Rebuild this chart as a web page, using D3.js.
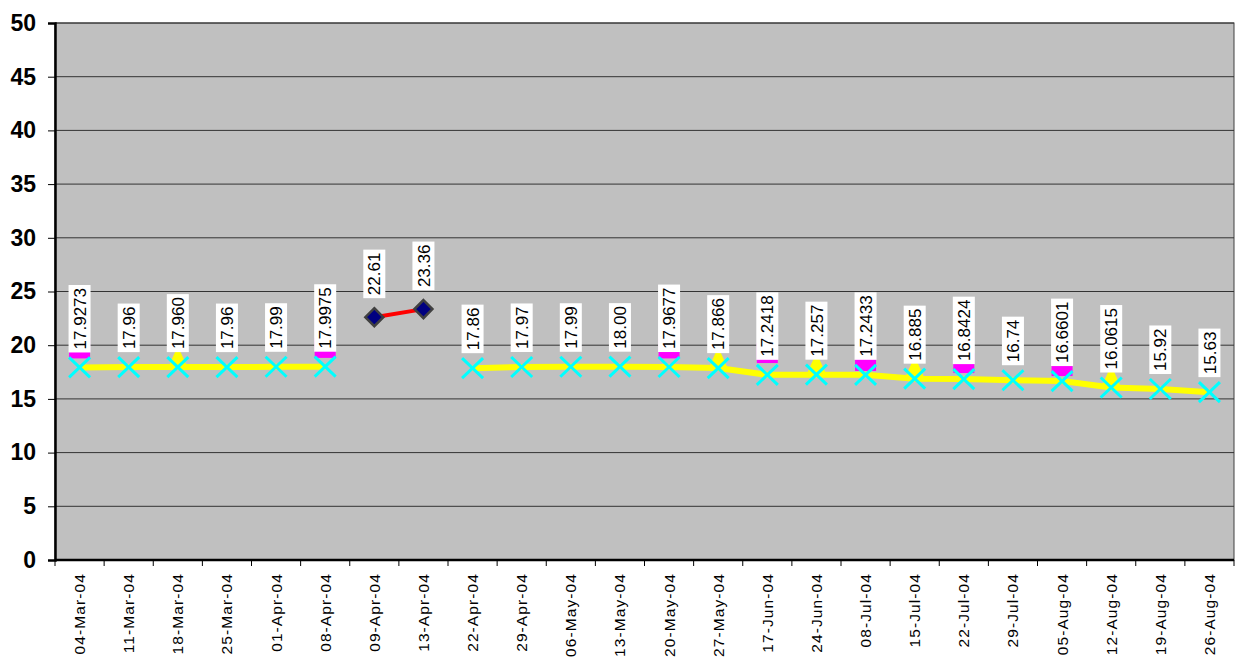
<!DOCTYPE html>
<html>
<head>
<meta charset="utf-8">
<script src="https://cdn.jsdelivr.net/npm/d3@7/dist/d3.min.js"></script>
<style>
  body { margin:0; background:#fff; }
  svg { display:block; }
</style>
</head>
<body>
<svg id="chart"></svg>
<script>
var W = 1236, H = 661;

// data
var categories = ["04-Mar-04","11-Mar-04","18-Mar-04","25-Mar-04","01-Apr-04","08-Apr-04","09-Apr-04","13-Apr-04",
  "22-Apr-04","29-Apr-04","06-May-04","13-May-04","20-May-04","27-May-04","17-Jun-04","24-Jun-04",
  "08-Jul-04","15-Jul-04","22-Jul-04","29-Jul-04","05-Aug-04","12-Aug-04","19-Aug-04","26-Aug-04"];
var lineVals = [17.9273,17.96,17.960,17.96,17.99,17.9975,null,null,
  17.86,17.97,17.99,18.00,17.9677,17.866,17.2418,17.257,
  17.2433,16.885,16.8424,16.74,16.6601,16.0615,15.92,15.63];
var lineLabels = ["17.9273","17.96","17.960","17.96","17.99","17.9975",null,null,
  "17.86","17.97","17.99","18.00","17.9677","17.866","17.2418","17.257",
  "17.2433","16.885","16.8424","16.74","16.6601","16.0615","15.92","15.63"];
var spikeVals = [null,null,null,null,null,null,22.61,23.36,
  null,null,null,null,null,null,null,null,null,null,null,null,null,null,null,null];
var spikeLabels = [null,null,null,null,null,null,"22.61","23.36",
  null,null,null,null,null,null,null,null,null,null,null,null,null,null,null,null];
// magenta squares (down) and yellow triangles (up), mostly hidden behind labels
var downVals = [19.7,null,null,null,null,19.75,null,null,
  null,null,null,null,19.7,null,19.27,null,18.53,null,18.34,null,18.06,null,null,null];
var upVals = [null,null,19.0,null,null,null,null,null,
  null,null,null,null,null,18.9,null,18.4,null,18.05,null,null,null,17.2,null,null];
var yTicks = [0,5,10,15,20,25,30,35,40,45,50];

var svg = d3.select("#chart").attr("width", W).attr("height", H);

var pLeft = 55, pRight = 1234, pTop = 23, pBottom = 560;
var x = d3.scaleBand().domain(categories).range([pLeft, pRight]).padding(0);
var y = d3.scaleLinear().domain([0, 50]).range([pBottom, pTop]);
var cx = function(i){ return x(categories[i]) + x.bandwidth()/2; };

// plot area
svg.append("rect")
  .attr("x", pLeft).attr("y", pTop)
  .attr("width", pRight-pLeft).attr("height", pBottom-pTop)
  .attr("fill", "#C0C0C0")
  .attr("stroke", "#404040").attr("stroke-width", 1);

// grid
svg.append("g").selectAll("line").data(yTicks.filter(function(d){return d>0;}))
  .enter().append("line")
  .attr("x1", pLeft).attr("x2", pRight)
  .attr("y1", function(d){return y(d);}).attr("y2", function(d){return y(d);})
  .attr("stroke", "#333").attr("stroke-width", 1);

// y axis
var yAxis = d3.axisLeft(y).tickValues(yTicks).tickSize(7).tickPadding(12);
var gy = svg.append("g").attr("transform", "translate(" + pLeft + ",0)").call(yAxis);
gy.select(".domain").attr("stroke", "#000").attr("stroke-width", 2.5);
gy.selectAll(".tick line").attr("stroke", "#000").attr("stroke-width", 1);
gy.selectAll(".tick text")
  .attr("font-family", "'Liberation Sans', Arial, sans-serif")
  .attr("font-size", 23).attr("font-weight", "bold").attr("fill", "#000");

// x axis
var gx = svg.append("g").attr("transform", "translate(0," + pBottom + ")");
gx.append("line").attr("x1", pLeft).attr("x2", pRight).attr("y1", 0).attr("y2", 0)
  .attr("stroke", "#000").attr("stroke-width", 2.5);
var bounds = categories.map(function(c){return x(c);}).concat([pRight]);
gx.selectAll("line.tk").data(bounds).enter().append("line").attr("class", "tk")
  .attr("x1", function(d){return d;}).attr("x2", function(d){return d;})
  .attr("y1", 0).attr("y2", 6).attr("stroke", "#000").attr("stroke-width", 1);
gx.selectAll("text").data(categories).enter().append("text")
  .attr("transform", function(d,i){ return "translate(" + (cx(i)) + ",13) rotate(-90)"; })
  .attr("text-anchor", "end").attr("dy", "0.35em")
  .attr("font-family", "'Liberation Sans', Arial, sans-serif")
  .attr("font-size", 15.5).attr("letter-spacing", 1.1).attr("fill", "#000")
  .text(function(d){return d;});

// hidden-ish markers
var idx = d3.range(categories.length);
svg.append("g").selectAll("rect").data(idx.filter(function(i){return downVals[i] != null;}))
  .enter().append("rect")
  .attr("x", function(i){return cx(i) - 10.5;})
  .attr("y", function(i){return y(downVals[i]) - 10;})
  .attr("width", 21).attr("height", 20)
  .attr("fill", "#FF00FF");
svg.append("g").selectAll("path").data(idx.filter(function(i){return upVals[i] != null;}))
  .enter().append("path")
  .attr("d", function(i){
    var px = cx(i), py = y(upVals[i]);
    return "M" + px + "," + (py-10) + "L" + (px+9) + "," + (py+10) + "L" + (px-9) + "," + (py+10) + "Z";
  })
  .attr("fill", "#FFFF00");

// yellow line
var line = d3.line()
  .defined(function(i){return lineVals[i] != null;})
  .x(function(i){return cx(i);})
  .y(function(i){return y(lineVals[i]);});
svg.append("path").datum(idx).attr("d", line)
  .attr("fill", "none").attr("stroke", "#FFFF00").attr("stroke-width", 6);

// cyan X markers
var gX = svg.append("g").selectAll("g").data(idx.filter(function(i){return lineVals[i] != null;}))
  .enter().append("g")
  .attr("transform", function(i){return "translate(" + cx(i) + "," + y(lineVals[i]) + ")";});
gX.append("path").attr("d", "M-10.5,-10L10.5,10M-10.5,10L10.5,-10")
  .attr("stroke", "#00FFFF").attr("stroke-width", 3).attr("fill", "none");

// spike series
var spikeLine = d3.line()
  .defined(function(i){return spikeVals[i] != null;})
  .x(function(i){return cx(i);})
  .y(function(i){return y(spikeVals[i]);});
svg.append("path").datum(idx).attr("d", spikeLine)
  .attr("fill", "none").attr("stroke", "#FF0000").attr("stroke-width", 4);
svg.append("g").selectAll("path").data(idx.filter(function(i){return spikeVals[i] != null;}))
  .enter().append("path")
  .attr("d", function(i){
    var px = cx(i), py = y(spikeVals[i]);
    return "M" + px + "," + (py-9) + "L" + (px+9) + "," + py + "L" + px + "," + (py+9) + "L" + (px-9) + "," + py + "Z";
  })
  .attr("fill", "#000080").attr("stroke", "#404040").attr("stroke-width", 2.5);

// data labels
function addLabel(i, v, txt, gap) {
  var bx = cx(i), by = y(v) - gap;
  var g = svg.append("g");
  var t = g.append("text")
    .attr("transform", "translate(" + bx + "," + (by - 3) + ") rotate(-90)")
    .attr("dy", "0.36em")
    .attr("text-anchor", "start")
    .attr("font-family", "'Liberation Sans', Arial, sans-serif")
    .attr("font-size", 17).attr("fill", "#000")
    .text(txt);
  var len = t.node().getComputedTextLength();
  g.insert("rect", "text")
    .attr("x", bx - 11).attr("y", by - len - 6)
    .attr("width", 22).attr("height", len + 6)
    .attr("fill", "#fff");
}
idx.forEach(function(i){
  if (lineLabels[i] != null) addLabel(i, lineVals[i], lineLabels[i], 15);
  if (spikeLabels[i] != null) addLabel(i, spikeVals[i], spikeLabels[i], 19);
});
</script>
</body>
</html>
